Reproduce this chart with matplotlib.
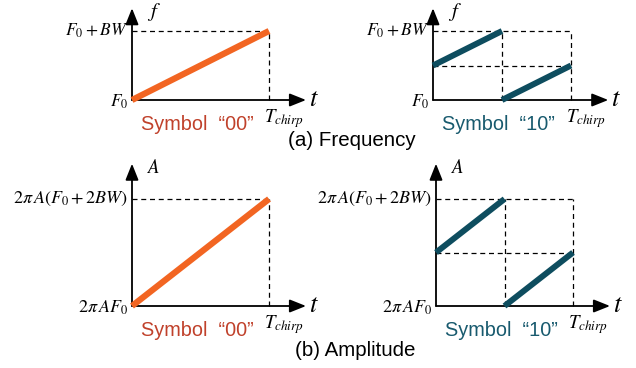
import matplotlib
matplotlib.use("Agg")
import matplotlib.pyplot as plt

# normalised time (0..T_chirp) and value (0..top) of each chirp
t_00 = [0, 1]
v_00 = [0, 1]
t_10_first = [0, 0.5]
v_10_first = [0.5, 1]
t_10_second = [0.5, 1]
v_10_second = [0, 0.5]

freq_labels = [r"$F_0$", r"$F_0+BW$"]
amp_labels = [r"$2\pi\, AF_0$", r"$2\pi\, A(F_0+2BW)$"]
symbols = ["Symbol  \u201c00\u201d", "Symbol  \u201c10\u201d"]
captions = ["(a) Frequency", "(b) Amplitude"]

orange = "#F26522"
orange_txt = "#C0412B"
teal = "#0E4D5F"
teal_txt = "#185A6E"

plt.rcParams["mathtext.fontset"] = "stix"
plt.rcParams["font.family"] = ["Liberation Sans", "DejaVu Sans"]

W, H = 636, 368
fig = plt.figure(figsize=(W / 100, H / 100), dpi=100)

X_END = 1.27
Y_TOP = 1.33


def panel(ox, oy, ux, uy):
    x_lo, x_hi = -1.0, 1.45
    y_lo, y_hi = -0.5, 1.45
    ax = fig.add_axes([(ox + x_lo * ux) / W, (H - oy + y_lo * uy) / H,
                       (x_hi - x_lo) * ux / W, (y_hi - y_lo) * uy / H])
    ax.set_xlim(x_lo, x_hi)
    ax.set_ylim(y_lo, y_hi)
    ax.axis("off")
    ax.set_facecolor("none")
    return ax


def draw(ax, kind, axis_name, labels, symbol, split):
    arrow = dict(arrowstyle="-|>,head_length=0.55,head_width=0.22",
                 mutation_scale=18, lw=1.3, color="black",
                 shrinkA=0, shrinkB=0)
    ax.annotate("", xy=(X_END, 0), xytext=(0, 0), arrowprops=arrow)
    ax.annotate("", xy=(0, Y_TOP), xytext=(0, 0), arrowprops=arrow)

    dash = dict(color="black", lw=0.9, ls=(0, (4, 3)))
    ax.plot([0, 1], [1, 1], **dash)
    ax.plot([1, 1], [0, 1], **dash)
    if split:
        ax.plot([0, 1], [0.5, 0.5], **dash)
        ax.plot([0.5, 0.5], [0, 1], **dash)
        ax.plot(t_10_first, v_10_first, color=teal, lw=4.3,
                solid_capstyle="butt", zorder=5)
        ax.plot(t_10_second, v_10_second, color=teal, lw=4.3,
                solid_capstyle="butt", zorder=5)
        txt_col = teal_txt
    else:
        ax.plot(t_00, v_00, color=orange, lw=4.5,
                solid_capstyle="butt", zorder=5)
        txt_col = orange_txt

    tick_fs = 13 if kind == "amp" else 12.5
    ax.annotate(labels[0], xy=(0, 0), xytext=(-4, -2),
                textcoords="offset pixels", ha="right", va="center",
                fontsize=tick_fs)
    ax.annotate(labels[1], xy=(0, 1), xytext=(-4, 0),
                textcoords="offset pixels", ha="right", va="center",
                fontsize=tick_fs)
    ax.annotate(axis_name, xy=(0, Y_TOP), xytext=(15, -4),
                textcoords="offset pixels", ha="left", va="center",
                fontsize=15 if kind == "freq" else 13.5)
    ax.annotate(r"$t$", xy=(X_END, 0), xytext=(3, 1),
                textcoords="offset pixels", ha="left", va="center",
                fontsize=19)
    ax.annotate(r"$T_{chirp}$", xy=(1, 0), xytext=(15, -19),
                textcoords="offset pixels", ha="center", va="center",
                fontsize=13.5)
    ax.annotate(symbol, xy=(0, 0), xytext=(9, -25),
                textcoords="offset pixels", ha="left", va="center",
                fontsize=14.3, color=txt_col)


ax1 = panel(132, 100, 137, 69)
draw(ax1, "freq", r"$f$", freq_labels, symbols[0], False)
ax2 = panel(433, 100, 138, 69)
draw(ax2, "freq", r"$f$", freq_labels, symbols[1], True)
ax3 = panel(132, 306, 137, 107)
draw(ax3, "amp", r"$A$", amp_labels, symbols[0], False)
ax4 = panel(436, 306, 137, 107)
draw(ax4, "amp", r"$A$", amp_labels, symbols[1], True)

fig.text(352 / W, 1 - 141 / H, captions[0], ha="center", va="center",
         fontsize=14.8)
fig.text(355 / W, 1 - 350 / H, captions[1], ha="center", va="center",
         fontsize=14.8)

fig.savefig("out.png", dpi=100)
